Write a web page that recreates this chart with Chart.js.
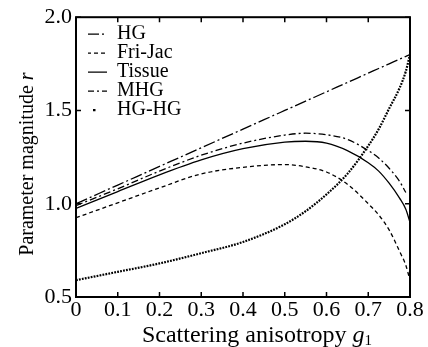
<!DOCTYPE html>
<html>
<head>
<meta charset="utf-8">
<script src="https://cdn.jsdelivr.net/npm/chart.js@4/dist/chart.umd.min.js"></script>
<style>
  body { margin: 0; background: #fff; }
  canvas { display: block; }
</style>
</head>
<body>
<canvas id="chart" width="428" height="347"></canvas>
<script>
// scattering anisotropy g1 (x) and the five curves
const gValues = [0, 0.1, 0.2, 0.3, 0.4, 0.5, 0.55, 0.6, 0.65, 0.7, 0.725, 0.75, 0.775, 0.79, 0.8];
const hgValues = [1.0, 1.1, 1.2, 1.3, 1.4, 1.5, 1.55, 1.6, 1.65, 1.7, 1.725, 1.75, 1.775, 1.79, 1.8];
const friJacValues = [0.925, 1.005, 1.085, 1.16, 1.195, 1.21, 1.198, 1.17, 1.105, 1.0, 0.94, 0.86, 0.745, 0.67, 0.59];
const tissueValues = [0.975, 1.065, 1.155, 1.235, 1.295, 1.33, 1.335, 1.325, 1.285, 1.22, 1.175, 1.11, 1.03, 0.97, 0.9];
const mhgValues = [0.99, 1.08, 1.175, 1.26, 1.325, 1.368, 1.378, 1.37, 1.345, 1.285, 1.245, 1.19, 1.12, 1.06, null];
const hgHgValues = [0.59, 0.635, 0.68, 0.735, 0.795, 0.89, 0.96, 1.05, 1.16, 1.31, 1.4, 1.51, 1.62, 1.71, 1.8];

const xTicks = [0, 0.1, 0.2, 0.3, 0.4, 0.5, 0.6, 0.7, 0.8];
const yTicks = [0.5, 1.0, 1.5, 2.0];

const FONT = 'Liberation Serif';
Chart.defaults.font.family = FONT;
Chart.defaults.color = '#000';

const points = (vals) => gValues.map((g, i) => ({ x: g, y: vals[i] }));

const line = (label, vals, dash, width) => ({
  label: label,
  data: points(vals),
  borderColor: '#000',
  backgroundColor: '#000',
  borderWidth: width || 1.3,
  borderDash: dash,
  pointRadius: 0,
  fill: false,
  cubicInterpolationMode: 'monotone',
  spanGaps: false,
});

// legend sits inside the plot, a bit off the corner
const legendShift = {
  id: 'legendShift',
  afterLayout(chart) {
    chart.legend.left = chart.chartArea.left + 12;
    chart.legend.top = chart.chartArea.top + 8;
  }
};

// frame, inward ticks and the axis titles (italic g1 and r)
const frame = {
  id: 'frame',
  afterDraw(chart) {
    const { ctx, chartArea: a, scales } = chart;
    ctx.save();
    ctx.strokeStyle = '#000';
    ctx.lineWidth = 1.5;
    ctx.beginPath();
    xTicks.forEach((v) => {
      const px = scales.x.getPixelForValue(v);
      ctx.moveTo(px, a.bottom); ctx.lineTo(px, a.bottom - 5);
      ctx.moveTo(px, a.top); ctx.lineTo(px, a.top + 5);
    });
    yTicks.forEach((v) => {
      const py = scales.y.getPixelForValue(v);
      ctx.moveTo(a.left, py); ctx.lineTo(a.left + 5, py);
      ctx.moveTo(a.right, py); ctx.lineTo(a.right - 5, py);
    });
    ctx.stroke();
    ctx.lineWidth = 2;
    ctx.strokeRect(a.left, a.top, a.right - a.left, a.bottom - a.top);

    ctx.fillStyle = '#000';
    ctx.textBaseline = 'alphabetic';
    // x title
    const t1 = 'Scattering anisotropy ';
    ctx.font = '24px "' + FONT + '"';
    const w1 = ctx.measureText(t1).width;
    ctx.font = 'italic 24px "' + FONT + '"';
    const w2 = ctx.measureText('g').width;
    ctx.font = '15px "' + FONT + '"';
    const w3 = ctx.measureText('1').width;
    const x0 = (a.left + a.right) / 2 + 14 - (w1 + w2 + w3) / 2;
    const yb = 342;
    ctx.font = '24px "' + FONT + '"';
    ctx.fillText(t1, x0, yb);
    ctx.font = 'italic 24px "' + FONT + '"';
    ctx.fillText('g', x0 + w1, yb);
    ctx.font = '15px "' + FONT + '"';
    ctx.fillText('1', x0 + w1 + w2, yb + 3);

    // y title
    const s1 = 'Parameter magnitude ';
    ctx.font = '20px "' + FONT + '"';
    const v1 = ctx.measureText(s1).width;
    ctx.font = 'italic 20px "' + FONT + '"';
    const v2 = ctx.measureText('r').width;
    ctx.translate(33, (a.top + a.bottom) / 2 + 7);
    ctx.rotate(-Math.PI / 2);
    const s0 = -(v1 + v2) / 2;
    ctx.font = '20px "' + FONT + '"';
    ctx.fillText(s1, s0, 0);
    ctx.font = 'italic 20px "' + FONT + '"';
    ctx.fillText('r', s0 + v1, 0);
    ctx.restore();
  }
};

new Chart(document.getElementById('chart'), {
  type: 'line',
  data: {
    datasets: [
      line('HG', hgValues, [12, 3, 2, 3]),
      line('Fri-Jac', friJacValues, [4, 3]),
      line('Tissue', tissueValues, []),
      line('MHG', mhgValues, [7, 3, 2, 3]),
      line('HG-HG', hgHgValues, [1.8, 1.2], 2.2),
    ],
  },
  options: {
    responsive: false,
    animation: false,
    devicePixelRatio: 1,
    layout: { padding: { top: 16, right: 18, left: 0, bottom: 0 } },
    plugins: {
      tooltip: { enabled: false },
      legend: {
        position: 'chartArea',
        align: 'start',
        labels: {
          usePointStyle: true,
          pointStyle: 'line',
          pointStyleWidth: 20,
          padding: -1,
          color: '#000',
          font: { family: FONT, size: 20 },
          generateLabels(chart) {
            const items = Chart.defaults.plugins.legend.labels.generateLabels(chart);
            items.forEach((it) => {
              const ds = chart.data.datasets[it.datasetIndex];
              it.pointStyle = 'line';
              it.lineDash = ds.borderDash;
              it.lineWidth = ds.borderWidth;
              it.strokeStyle = '#000';
              if (it.text === 'HG-HG') {
                it.lineDash = [2.5, 40];
                it.lineDashOffset = -6;
              }
            });
            return items;
          },
        },
      },
    },
    scales: {
      x: {
        type: 'linear',
        min: 0,
        max: 0.8,
        afterBuildTicks: (s) => { s.ticks = xTicks.map((v) => ({ value: v })); },
        afterFit: (s) => { s.height = 50; },
        ticks: {
          font: { size: 22 },
          color: '#000',
          padding: 0,
          maxRotation: 0,
          callback: (v) => (v === 0 ? '0' : v.toFixed(1)),
        },
        grid: { display: false, drawTicks: false },
        border: { display: false },
      },
      y: {
        min: 0.5,
        max: 2.0,
        afterBuildTicks: (s) => { s.ticks = yTicks.map((v) => ({ value: v })); },
        afterFit: (s) => { s.width = 76; },
        ticks: {
          font: { size: 22 },
          color: '#000',
          padding: 4,
          callback: (v) => v.toFixed(1),
        },
        grid: { display: false, drawTicks: false },
        border: { display: false },
      },
    },
  },
  plugins: [legendShift, frame],
});
</script>
</body>
</html>
